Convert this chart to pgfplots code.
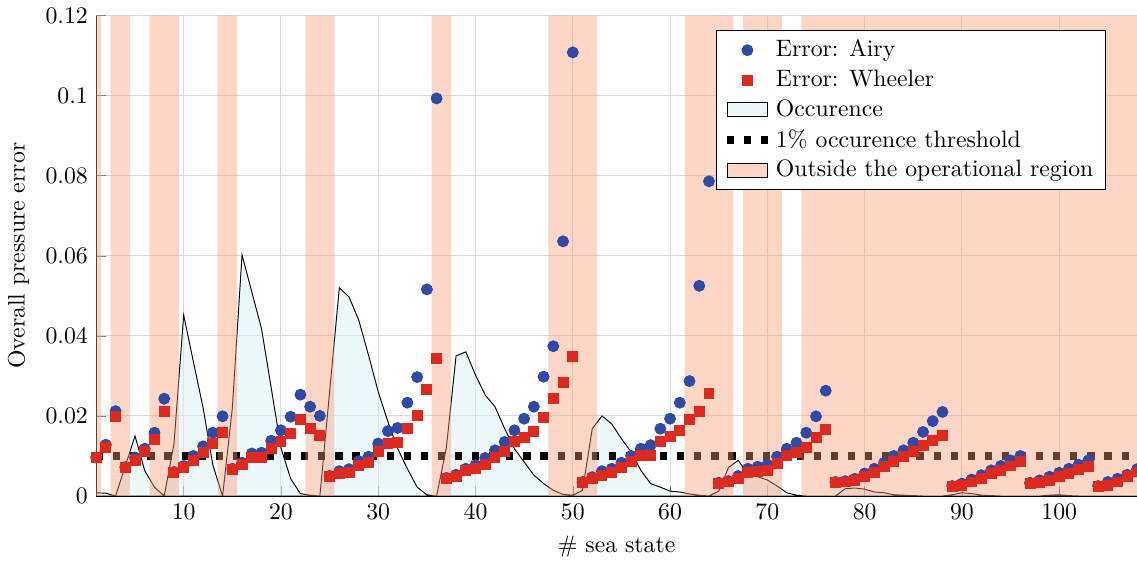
\documentclass[border=0pt]{standalone}
\usepackage{pgfplots}
\usepackage{pgfplotstable}
\pgfplotsset{compat=1.18}
\definecolor{airy}{RGB}{47,73,166}
\definecolor{wheeler}{RGB}{222,41,30}
\definecolor{occ}{RGB}{217,241,245}
\definecolor{band}{RGB}{250,153,113}

\pgfplotstableread{
x airy wheeler occ
1 0.0096 0.0095 0.0008
2 0.0128 0.0121 0.0007
3 0.0212 0.0198 0.0
4 0.0072 0.0071 0.0075
5 0.0096 0.0089 0.0150
6 0.0118 0.0112 0.0063
7 0.0158 0.0141 0.0022
8 0.0243 0.0210 0.0
9 0.0060 0.0058 0.0130
10 0.0075 0.0072 0.0452
11 0.0100 0.0088 0.0335
12 0.0124 0.0108 0.0220
13 0.0158 0.0132 0.0077
14 0.0199 0.0158 0.0
15 0.0068 0.0066 0.0220
16 0.0083 0.0078 0.0602
17 0.0106 0.0096 0.0510
18 0.0108 0.0096 0.0418
19 0.0138 0.0118 0.0270
20 0.0164 0.0135 0.0120
21 0.0198 0.0156 0.0043
22 0.0253 0.0191 0.0006
23 0.0223 0.0168 0.0002
24 0.0200 0.0150 0.0
25 0.0050 0.0048 0.0260
26 0.0062 0.0056 0.0520
27 0.0067 0.0058 0.0497
28 0.0087 0.0077 0.0439
29 0.0098 0.0083 0.0352
30 0.0131 0.0110 0.0260
31 0.0162 0.0131 0.0185
32 0.0170 0.0133 0.0118
33 0.0233 0.0168 0.0068
34 0.0297 0.0202 0.0022
35 0.0516 0.0266 0.0003
36 0.0993 0.0343 0.0
37 0.0045 0.0043 0.0120
38 0.0053 0.0049 0.0350
39 0.0068 0.0063 0.0360
40 0.0077 0.0068 0.0302
41 0.0095 0.0079 0.0252
42 0.0114 0.0096 0.0223
43 0.0135 0.0110 0.0168
44 0.0164 0.0135 0.0118
45 0.0193 0.0145 0.0085
46 0.0223 0.0162 0.0052
47 0.0298 0.0195 0.0031
48 0.0374 0.0243 0.0014
49 0.0636 0.0283 0.0004
50 0.1108 0.0348 0.0002
51 0.0035 0.0033 0.0014
52 0.0047 0.0043 0.0168
53 0.0062 0.0052 0.0200
54 0.0068 0.0058 0.0180
55 0.0083 0.0071 0.0143
56 0.0100 0.0085 0.0110
57 0.0118 0.0100 0.0064
58 0.0127 0.0102 0.0031
59 0.0168 0.0135 0.0022
60 0.0193 0.0148 0.0012
61 0.0233 0.0163 0.0010
62 0.0287 0.0192 0.0005
63 0.0525 0.0210 0.0002
64 0.0786 0.0256 0.0
65 0.0033 0.0031 0.0012
66 0.0037 0.0035 0.0071
67 0.0050 0.0043 0.0089
68 0.0068 0.0058 0.0055
69 0.0073 0.0062 0.0048
70 0.0078 0.0064 0.0040
71 0.0098 0.0081 0.0025
72 0.0118 0.0100 0.0008
73 0.0133 0.0108 0.0002
74 0.0158 0.0122 0.0
75 0.0199 0.0145 0.0
76 0.0263 0.0167 0.0
77 0.0035 0.0033 0.0
78 0.0037 0.0035 0.0018
79 0.0043 0.0038 0.0020
80 0.0056 0.0048 0.0017
81 0.0068 0.0058 0.0010
82 0.0083 0.0073 0.0008
83 0.0100 0.0085 0.0003
84 0.0114 0.0098 0.0002
85 0.0133 0.0112 0.0001
86 0.0160 0.0127 0.0
87 0.0187 0.0139 0.0
88 0.0210 0.0150 0.0
89 0.0025 0.0023 0.0003
90 0.0031 0.0027 0.0008
91 0.0041 0.0035 0.0006
92 0.0052 0.0043 0.0002
93 0.0064 0.0056 0.0001
94 0.0075 0.0064 0.0
95 0.0089 0.0075 0.0
96 0.0100 0.0085 0.0
97 0.0033 0.0031 0.0
98 0.0039 0.0033 0.0
99 0.0048 0.0039 0.0002
100 0.0058 0.0048 0.0003
101 0.0068 0.0056 0.0001
102 0.0078 0.0067 0.0
103 0.0089 0.0073 0.0
104 0.0025 0.0023 0.0
105 0.0035 0.0027 0.0
106 0.0043 0.0035 0.0
107 0.0053 0.0048 0.0
108 0.0067 0.0060 0.0
}\data

\begin{document}
\begin{tikzpicture}[trim axis right]
\begin{axis}[
  scale only axis, width=438.5pt, height=202.4pt,
  xmin=1, xmax=108, ymin=0, ymax=0.12,
  axis x line*=bottom, axis y line*=left, axis line style={-},
  xtick={10,20,30,40,50,60,70,80,90,100},
  ytick={0,0.02,0.04,0.06,0.08,0.1,0.12},
  scaled y ticks=false,
  yticklabel style={/pgf/number format/fixed, /pgf/number format/precision=2},
  grid=major, grid style={black!15},
  xlabel={\# sea state}, ylabel={Overall pressure error},
  legend pos=north east, legend cell align=left,
  legend style={draw=black, fill=white},
]
\addlegendimage{only marks, mark=*, mark size=2.3pt, color=airy}
\addlegendentry{Error: Airy}
\addlegendimage{only marks, mark=square*, mark size=2.1pt, color=wheeler}
\addlegendentry{Error: Wheeler}
\addlegendimage{area legend, fill=occ, fill opacity=0.5, draw=black}
\addlegendentry{Occurence}
\addlegendimage{black, line width=3pt, dash pattern=on 3pt off 4.2pt}
\addlegendentry{1\% occurence threshold}
\addlegendimage{area legend, fill=band, fill opacity=0.4, draw=black}
\addlegendentry{Outside the operational region}

\addplot[draw=black, fill=occ, fill opacity=0.5, forget plot] table[x=x,y=occ]{\data} \closedcycle;
\addplot[black, line width=3pt, dash pattern=on 3pt off 4.2pt, forget plot] coordinates {(1,0.01) (108,0.01)};
\addplot[draw=none, fill=band, fill opacity=0.4, const plot mark left, forget plot] coordinates {
  (0.5,0.12) (1.5,0) (2.5,0.12) (4.5,0) (6.5,0.12) (9.5,0) (13.5,0.12) (15.5,0)
  (22.5,0.12) (25.5,0) (35.5,0.12) (37.5,0) (47.5,0.12) (52.5,0) (61.5,0.12) (66.5,0)
  (67.5,0.12) (71.5,0) (73.5,0.12) (109,0.12)} \closedcycle;
\addplot[only marks, mark=*, mark size=2.3pt, color=airy, forget plot] table[x=x,y=airy]{\data};
\addplot[only marks, mark=square*, mark size=2.1pt, color=wheeler, forget plot] table[x=x,y=wheeler]{\data};
\end{axis}
\end{tikzpicture}
\end{document}
